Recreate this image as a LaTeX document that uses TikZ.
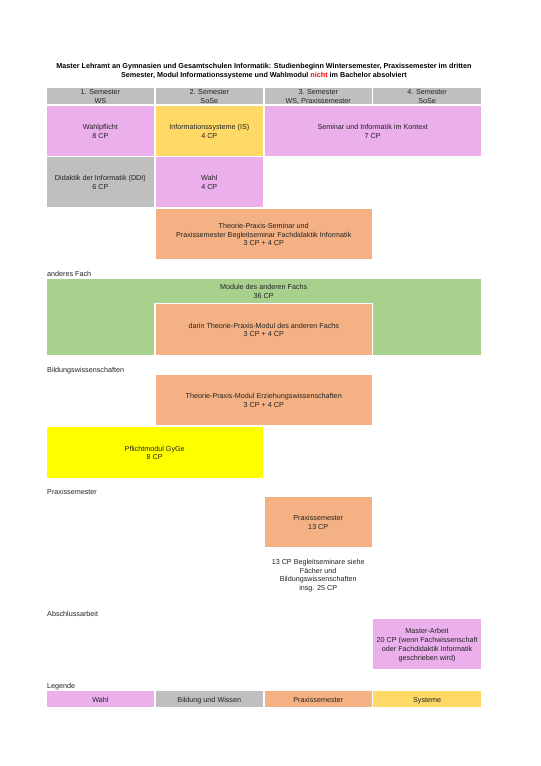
\documentclass[tikz,border=0pt]{standalone}
\usepackage{fontspec}
\setmainfont{Liberation Sans}
\usetikzlibrary{calc}
\definecolor{pinkc}{HTML}{EBAFEC}
\definecolor{grayc}{HTML}{BFBFBF}
\definecolor{orangec}{HTML}{F4B183}
\definecolor{goldc}{HTML}{FFD966}
\definecolor{greenc}{HTML}{A9D18E}
\definecolor{yellowc}{HTML}{FFFF00}
\definecolor{txt}{HTML}{222222}
\definecolor{redc}{HTML}{FF0000}
\newcommand\mycell[7]{%
  \fill[#6] (#2,#3) rectangle (#4,#5);
  \node[celltext] (#1) at ($(#2,#3)!0.5!(#4,#5)$) {#7};}
\tikzset{
  celltext/.style={inner sep=0pt, align=center, text=txt, font=\fontsize{7.2}{8.7}\selectfont,
    yshift=-1.7pt, execute at begin node=\strut, execute at end node=\strut},
  sectlabel/.style={inner sep=0pt, anchor=west, text=txt, font=\fontsize{7.2}{8.7}\selectfont,
    yshift=-1.5pt, execute at begin node=\strut},
  titletext/.style={inner sep=0pt, align=center, text=black, font=\fontsize{7.2}{9.3}\selectfont\bfseries,
    yshift=-2pt, execute at begin node=\strut, execute at end node=\strut}
}
\begin{document}
\begin{tikzpicture}[x=1pt,y=-1pt]
\useasboundingbox[fill=white] (0,0) rectangle (541,766);
% title
\node[titletext] (title) at (264,69.9) {Master Lehramt an Gymnasien und Gesamtschulen Informatik: Studienbeginn Wintersemester, Praxissemester im dritten\\Semester, Modul Informationssysteme und Wahlmodul \textcolor{redc}{nicht} im Bachelor absolviert};
% header
\mycell{h1}{46.6}{88.3}{154.2}{104}{grayc}{1. Semester\\WS}
\mycell{h2}{155.7}{88.3}{262.9}{104}{grayc}{2. Semester\\SoSe}
\mycell{h3}{264.7}{88.3}{371.8}{104}{grayc}{3. Semester\\WS, Praxissemester}
\mycell{h4}{373.4}{88.3}{480.8}{104}{grayc}{4. Semester\\SoSe}
% row 1
\mycell{wp}{46.6}{105.7}{154.2}{155.7}{pinkc}{Wahlpflicht\\8 CP}
\mycell{is}{155.7}{105.7}{262.9}{155.7}{goldc}{Informationssysteme (IS)\\4 CP}
\mycell{sik}{264.7}{105.7}{480.8}{155.7}{pinkc}{Seminar und Informatik im Kontext\\7 CP}
% row 2
\mycell{ddi}{46.6}{157.3}{154.2}{207.3}{grayc}{Didaktik der Informatik (DDI)\\6 CP}
\mycell{wahl}{155.7}{157.3}{262.9}{207.3}{pinkc}{Wahl\\4 CP}
% row 3
\mycell{tps}{155.7}{209}{371.8}{259}{orangec}{Theorie-Praxis-Seminar und\\Praxissemester Begleitseminar Fachdidaktik Informatik\\3 CP + 4 CP}
% anderes Fach
\node[sectlabel] (lfach) at (47,273.5) {anderes Fach};
\fill[greenc] (46.6,278.7) rectangle (480.8,355);
\node[celltext] (maf) at (263.7,291) {Module des anderen Fachs\\36 CP};
\fill[white] (154.2,302.5) rectangle (373.4,355);
\mycell{tpm}{155.7}{304}{371.8}{355}{orangec}{darin Theorie-Praxis-Modul des anderen Fachs\\3 CP + 4 CP}
% Bildungswissenschaften
\node[sectlabel] (lbw) at (47,369.5) {Bildungswissenschaften};
\mycell{tpew}{155.7}{375}{371.8}{425}{orangec}{Theorie-Praxis-Modul Erziehungswissenschaften\\3 CP + 4 CP}
\mycell{gyge}{46.6}{427}{262.9}{477.7}{yellowc}{Pflichtmodul GyGe\\8 CP}
% Praxissemester
\node[sectlabel] (lps) at (47,491.2) {Praxissemester};
\mycell{ps}{264.7}{496.7}{371.8}{547}{orangec}{Praxissemester\\13 CP}
\node[celltext] (psnote) at (318.2,574.6) {13 CP Begleitseminare siehe\\F\"acher und\\Bildungswissenschaften\\insg. 25 CP};
% Abschlussarbeit
\node[sectlabel] (lab) at (47,613.5) {Abschlussarbeit};
\mycell{ma}{373.4}{619}{480.8}{669}{pinkc}{Master-Arbeit\\20 CP (wenn Fachwissenschaft\\oder Fachdidaktik Informatik\\geschrieben wird)}
% Legende
\node[sectlabel] (lleg) at (47,685.2) {Legende};
\mycell{l1}{46.6}{690.7}{154.2}{706.7}{pinkc}{Wahl}
\mycell{l2}{155.7}{690.7}{262.9}{706.7}{grayc}{Bildung und Wissen}
\mycell{l3}{264.7}{690.7}{371.8}{706.7}{orangec}{Praxissemester}
\mycell{l4}{373.4}{690.7}{480.8}{706.7}{goldc}{Systeme}
\end{tikzpicture}
\end{document}
